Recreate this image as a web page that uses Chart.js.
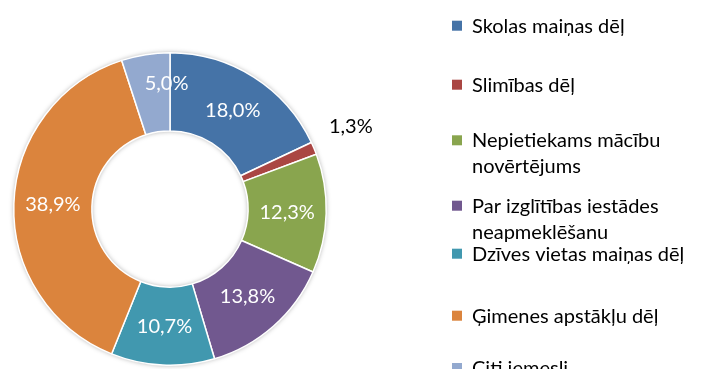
<!DOCTYPE html>
<html lang="lv">
<head>
<meta charset="utf-8">
<title>Iemesli</title>
<script src="https://cdn.jsdelivr.net/npm/chart.js@4.4.1/dist/chart.umd.min.js"></script>
<style>
  html, body { margin: 0; padding: 0; background: #fff; }
  #wrap { position: relative; width: 701px; height: 369px; overflow: hidden; }
</style>
</head>
<body>
<div id="wrap"><canvas id="reasonsChart" width="701" height="369"></canvas></div>
<script>
const categories = [
  "Skolas maiņas dēļ",
  "Slimības dēļ",
  "Nepietiekams mācību novērtējums",
  "Par izglītības iestādes neapmeklēšanu",
  "Dzīves vietas maiņas dēļ",
  "Ģimenes apstākļu dēļ",
  "Citi iemesli"
];
const shares = [18.0, 1.3, 12.3, 13.8, 10.7, 38.9, 5.0];
const colors = ["#4573A7", "#AA4643", "#89A54E", "#71588F", "#4198AF", "#DB843D", "#93A9CF"];

const FONT = "Lato, 'Open Sans', sans-serif";

// soft grey shadow under the whole ring
const ringShadow = {
  id: "ringShadow",
  beforeDatasetsDraw(chart) {
    const arc = chart.getDatasetMeta(0).data[0];
    if (!arc) return;
    const { x, y, innerRadius, outerRadius } = arc.getProps(["x", "y", "innerRadius", "outerRadius"], true);
    const ctx = chart.ctx;
    ctx.save();
    ctx.shadowColor = "rgba(0,0,0,0.35)";
    ctx.shadowBlur = 5;
    ctx.fillStyle = "#fff";
    ctx.beginPath();
    ctx.arc(x, y, outerRadius, 0, Math.PI * 2);
    ctx.arc(x, y, innerRadius, 0, Math.PI * 2, true);
    ctx.fill();
    ctx.restore();
  }
};

// percentage labels on the segments
const sliceLabels = {
  id: "sliceLabels",
  afterDatasetsDraw(chart) {
    const ctx = chart.ctx;
    const meta = chart.getDatasetMeta(0);
    ctx.save();
    ctx.font = "20px " + FONT;
    ctx.textAlign = "center";
    ctx.textBaseline = "middle";
    meta.data.forEach((arc, i) => {
      const v = shares[i];
      const text = v.toFixed(1).replace(".", ",") + "%";
      const { x, y, startAngle, endAngle, innerRadius, outerRadius } =
        arc.getProps(["x", "y", "startAngle", "endAngle", "innerRadius", "outerRadius"], true);
      let mid = (startAngle + endAngle) / 2;
      let r = (innerRadius + outerRadius) / 2;
      if (v < 3) {
        // too thin: put it outside in black
        r = outerRadius + 40;
        ctx.fillStyle = "#000";
        ctx.fillText(text, x + Math.cos(mid) * r, y + Math.sin(mid) * r - 6);
        return;
      }
      if (i === shares.length - 1) { mid += 0.13; r += 8; }
      ctx.fillStyle = "#fff";
      ctx.fillText(text, x + Math.cos(mid) * r, y + Math.sin(mid) * r);
    });
    ctx.restore();
  }
};

// legend on the right with wrapped entries
const sideLegend = {
  id: "sideLegend",
  afterDraw(chart) {
    const ctx = chart.ctx;
    const rowY = [32.7, 91.7, 147.3, 212.7, 260.7, 322.7, 375];
    const lineH = 26;
    const textX = 472;
    const maxW = 240;
    ctx.save();
    ctx.font = "20px " + FONT;
    ctx.textAlign = "left";
    ctx.textBaseline = "alphabetic";
    categories.forEach((name, i) => {
      const words = name.split(" ");
      const lines = [];
      let cur = "";
      words.forEach(w => {
        const test = cur ? cur + " " + w : w;
        if (cur && ctx.measureText(test).width > maxW) { lines.push(cur); cur = w; }
        else cur = test;
      });
      lines.push(cur);
      const base = rowY[i];
      ctx.fillStyle = colors[i];
      ctx.fillRect(452, base - 12, 10, 10);
      ctx.fillStyle = "#000";
      lines.forEach((ln, k) => ctx.fillText(ln, textX, base + k * lineH));
    });
    ctx.restore();
  }
};

new Chart(document.getElementById("reasonsChart"), {
  type: "doughnut",
  data: {
    labels: categories,
    datasets: [{
      data: shares,
      backgroundColor: colors,
      borderColor: "#fff",
      borderWidth: 1.5
    }]
  },
  options: {
    responsive: false,
    animation: false,
    cutout: "50%",
    layout: { padding: { left: 13, right: 374, top: 52, bottom: 3 } },
    plugins: {
      legend: { display: false },
      tooltip: { enabled: false }
    }
  },
  plugins: [ringShadow, sliceLabels, sideLegend]
});
</script>
</body>
</html>
